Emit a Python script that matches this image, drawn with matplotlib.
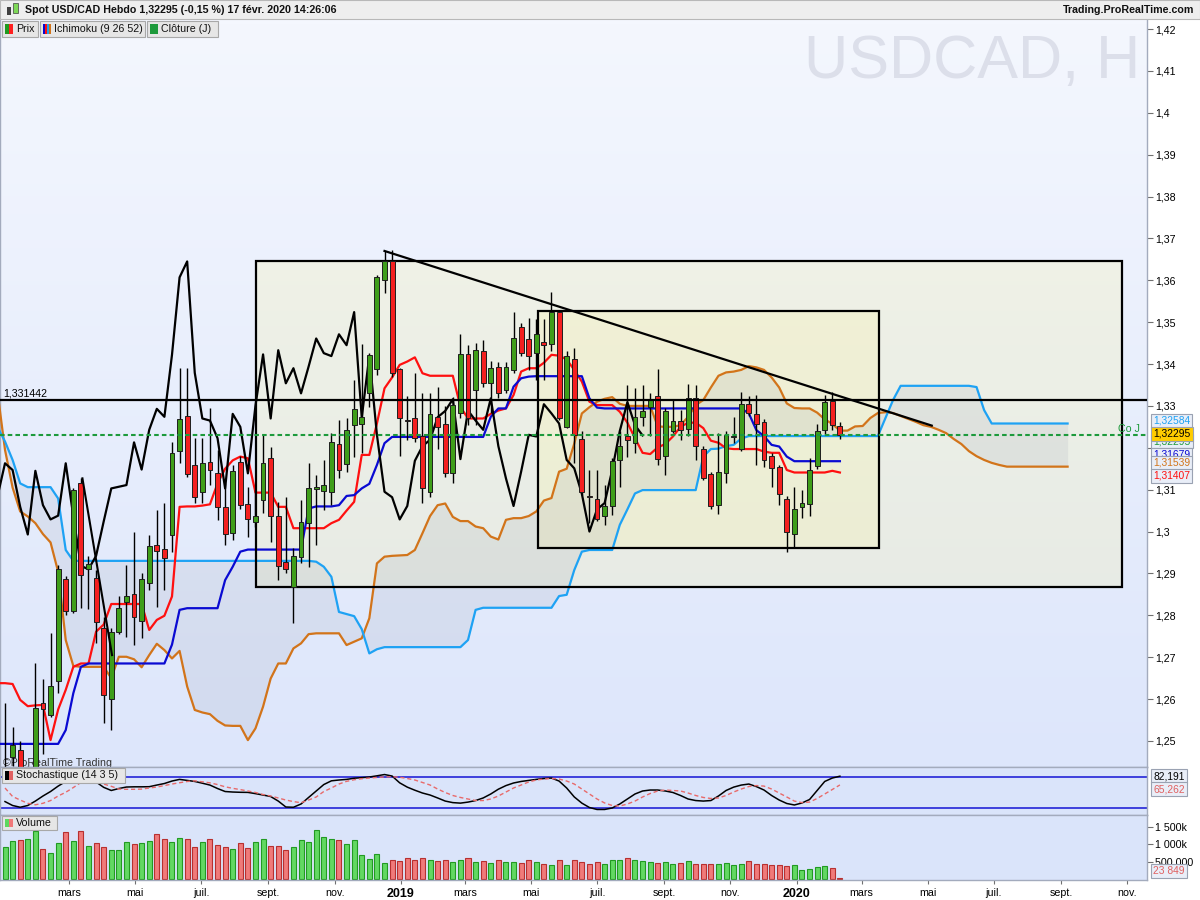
import numpy as np
import pandas as pd
import matplotlib
matplotlib.use("Agg")
import matplotlib.pyplot as plt
from matplotlib.patches import Rectangle
from matplotlib.ticker import FuncFormatter
from matplotlib.transforms import blended_transform_factory

plt.rcParams['font.family'] = ['Liberation Sans', 'DejaVu Sans']

# === Donnees hebdo USD/CAD, bougie 0 = semaine du 1er janvier 2018 ===
debut = pd.Timestamp('2018-01-01')

ouv = [1.2390, 1.2462, 1.2478, 1.2380, 1.2430, 1.2590, 1.2562, 1.2642, 1.2886, 1.2810,
       1.3115, 1.2911, 1.2888, 1.2769, 1.2599, 1.2761, 1.2831, 1.2850, 1.2787, 1.2876,
       1.2968, 1.2958, 1.2992, 1.3192, 1.3276, 1.3160, 1.3095, 1.3166, 1.3139, 1.3058,
       1.2996, 1.3167, 1.3065, 1.3022, 1.3075, 1.3175, 1.3038, 1.2927, 1.2867, 1.2940,
       1.3021, 1.3101, 1.3098, 1.3094, 1.3209, 1.3161, 1.3254, 1.3256, 1.3330, 1.3387,
       1.3601, 1.3645, 1.3387, 1.3267, 1.3270, 1.3227, 1.3095, 1.3274, 1.3258, 1.3139,
       1.3282, 1.3425, 1.3338, 1.3432, 1.3354, 1.3394, 1.3338, 1.3386, 1.3489, 1.3459,
       1.3426, 1.3453, 1.3448, 1.3524, 1.3250, 1.3411, 1.3220, 1.3084, 1.3077, 1.3037,
       1.3061, 1.3172, 1.3227, 1.3212, 1.3274, 1.3298, 1.3324, 1.3180, 1.3241, 1.3265,
       1.3244, 1.3318, 1.3197, 1.3138, 1.3063, 1.3139, 1.3226, 1.3197, 1.3305, 1.3280,
       1.3261, 1.3180, 1.3155, 1.3078, 1.2993, 1.3058, 1.3065, 1.3157, 1.3243, 1.3312,
       1.3252]
haut = [1.2590, 1.2534, 1.2500, 1.2440, 1.2685, 1.2647, 1.2757, 1.2920, 1.2895, 1.3103,
        1.3127, 1.2942, 1.2908, 1.2797, 1.2769, 1.2845, 1.2920, 1.2999, 1.2900, 1.2992,
        1.3052, 1.3067, 1.3215, 1.3390, 1.3390, 1.3223, 1.3223, 1.3294, 1.3195, 1.3115,
        1.3160, 1.3180, 1.3107, 1.3100, 1.3231, 1.3203, 1.3070, 1.3083, 1.2960, 1.3075,
        1.3163, 1.3135, 1.3172, 1.3236, 1.3266, 1.3270, 1.3363, 1.3449, 1.3427, 1.3613,
        1.3670, 1.3672, 1.3390, 1.3324, 1.3379, 1.3332, 1.3332, 1.3346, 1.3300, 1.3322,
        1.3472, 1.3445, 1.3451, 1.3457, 1.3408, 1.3404, 1.3404, 1.3525, 1.3497, 1.3509,
        1.3507, 1.3507, 1.3573, 1.3530, 1.3430, 1.3438, 1.3240, 1.3147, 1.3147, 1.3111,
        1.3175, 1.3239, 1.3350, 1.3342, 1.3350, 1.3330, 1.3388, 1.3295, 1.3314, 1.3290,
        1.3352, 1.3350, 1.3205, 1.3143, 1.3235, 1.3239, 1.3274, 1.3334, 1.3324, 1.3326,
        1.3268, 1.3188, 1.3160, 1.3085, 1.3107, 1.3100, 1.3175, 1.3258, 1.3326, 1.3334,
        1.3262]
bas = [1.2350, 1.2440, 1.2340, 1.2250, 1.2410, 1.2470, 1.2558, 1.2614, 1.2800, 1.2805,
       1.2817, 1.2814, 1.2733, 1.2542, 1.2526, 1.2755, 1.2749, 1.2729, 1.2745, 1.2860,
       1.2821, 1.2860, 1.2952, 1.3163, 1.3131, 1.3067, 1.3067, 1.3111, 1.3028, 1.2968,
       1.2980, 1.3055, 1.2988, 1.3010, 1.3044, 1.2976, 1.2884, 1.2900, 1.2781, 1.2925,
       1.2916, 1.2968, 1.3052, 1.3063, 1.3127, 1.3143, 1.3179, 1.3187, 1.3298, 1.3374,
       1.3569, 1.3370, 1.3180, 1.3219, 1.3215, 1.3067, 1.3083, 1.3196, 1.3131, 1.3115,
       1.3270, 1.3254, 1.3254, 1.3344, 1.3282, 1.3320, 1.3330, 1.3378, 1.3420, 1.3386,
       1.3362, 1.3362, 1.3432, 1.3266, 1.3247, 1.3163, 1.3088, 1.3020, 1.3025, 1.3016,
       1.3040, 1.3107, 1.3179, 1.3187, 1.3251, 1.3227, 1.3159, 1.3135, 1.3235, 1.3219,
       1.3227, 1.3172, 1.3122, 1.3055, 1.3043, 1.3117, 1.3211, 1.3193, 1.3275, 1.3159,
       1.3155, 1.3106, 1.3063, 1.2952, 1.2960, 1.3032, 1.3036, 1.3149, 1.3233, 1.3243,
       1.3222]
clot = [1.2430, 1.2490, 1.2380, 1.2430, 1.2578, 1.2576, 1.2631, 1.2910, 1.2810, 1.3099,
        1.2896, 1.2922, 1.2783, 1.2610, 1.2759, 1.2817, 1.2845, 1.2797, 1.2886, 1.2966,
        1.2954, 1.2936, 1.3187, 1.3268, 1.3137, 1.3083, 1.3163, 1.3147, 1.3059, 1.2993,
        1.3145, 1.3063, 1.3029, 1.3038, 1.3163, 1.3036, 1.2918, 1.2910, 1.2942, 1.3024,
        1.3103, 1.3107, 1.3111, 1.3213, 1.3148, 1.3243, 1.3293, 1.3274, 1.3422, 1.3607,
        1.3645, 1.3379, 1.3270, 1.3265, 1.3223, 1.3103, 1.3281, 1.3250, 1.3139, 1.3301,
        1.3423, 1.3270, 1.3433, 1.3354, 1.3390, 1.3330, 1.3394, 1.3461, 1.3426, 1.3419,
        1.3471, 1.3445, 1.3524, 1.3272, 1.3420, 1.3231, 1.3095, 1.3082, 1.3029, 1.3061,
        1.3169, 1.3204, 1.3219, 1.3273, 1.3288, 1.3316, 1.3173, 1.3289, 1.3265, 1.3243,
        1.3318, 1.3204, 1.3127, 1.3061, 1.3143, 1.3231, 1.3227, 1.3304, 1.3282, 1.3258,
        1.3171, 1.3151, 1.3090, 1.3000, 1.3053, 1.3068, 1.3147, 1.3240, 1.3309, 1.3254,
        1.32295]

# volume en milliers
volume = [912, 1091, 1120, 1148, 1385, 863, 758, 1026, 1348, 1091,
          1376, 949, 1026, 912, 835, 835, 1063, 1006, 1026, 1091,
          1291, 1148, 1063, 1177, 1148, 920, 1063, 1148, 977, 920,
          863, 1034, 892, 1063, 1148, 949, 949, 835, 920, 1120,
          1063, 1405, 1205, 1148, 1120, 1006, 1120, 692, 578, 720,
          465, 550, 521, 600, 560, 620, 540, 520, 560, 500,
          560, 600, 480, 520, 460, 560, 480, 500, 460, 540,
          480, 440, 420, 540, 400, 540, 500, 440, 480, 440,
          540, 560, 620, 540, 520, 480, 460, 480, 440, 460,
          520, 440, 440, 440, 440, 460, 420, 440, 520, 440,
          440, 420, 400, 380, 420, 265, 293, 342, 379, 313,
          23.849]

stoch_k = [33, 25.4, 22, 25.4, 34, 43.8, 52.5, 63, 72, 78,
           80, 81, 71, 60.6, 54.5, 58.3, 61.2, 61.6, 61.6, 61.8,
           65, 68, 72.8, 76, 74, 72, 68.6, 65, 58.3, 52.5,
           51.5, 51, 50.8, 48.4, 45.7, 42.8, 34, 22.5, 22, 28.3,
           41, 53.5, 66, 73.2, 74.8, 76, 78.2, 79.4, 80.6, 82.9,
           85.4, 82.5, 69.3, 61, 55, 49.6, 45.7, 40, 34, 31,
           30, 32, 35, 40, 47.7, 57, 64, 69, 72, 74,
           76, 77.7, 78.6, 72.8, 59.3, 42, 30, 21.5, 17.7, 17.7,
           20.6, 28.3, 38, 47.7, 53.5, 55.4, 55.4, 53.5, 50.6, 44.8,
           38, 35, 34, 35, 43.8, 54.5, 61, 65, 67, 62,
           55.4, 44.8, 36, 29.3, 26.4, 30.3, 37, 54.5, 72, 78.6,
           82.191]
stoch_d = [59.3, 42.8, 36, 29.7, 26.8, 29.7, 35, 43.8, 51, 60.2,
           70, 74, 73.8, 67, 62.6, 57.3, 56.8, 56.8, 57.2, 59.3,
           61.2, 64, 67, 69.5, 71.9, 73.2, 71.3, 69.3, 66, 61.6,
           58.7, 56.2, 53.5, 50.6, 46.7, 43.8, 40, 36, 33, 30.8,
           36, 41.9, 52.5, 59.3, 67, 72.2, 75.3, 77.3, 78.6, 79.8,
           80.8, 81.1, 80.2, 77.7, 74.8, 70, 65.1, 57.3, 50.6, 44.8,
           41, 38, 35, 35, 38, 43.8, 51.5, 59.3, 65.1, 71,
           74.8, 76.7, 77.7, 76.7, 72.8, 67, 57.3, 47.7, 38, 30.3,
           25.4, 24.4, 28.3, 34, 41.9, 48.6, 53.5, 55.4, 54.5, 53.5,
           49.6, 44.8, 41, 39, 40, 44.8, 51.5, 57.3, 62.2, 64,
           63, 57.3, 49.6, 41.9, 34, 31, 32, 39, 47.7, 56.4,
           65.262]

# Ichimoku, premier point = semaine -1
tenkan = [1.2638, 1.2638, 1.2636, 1.2598, 1.2583, 1.2585, 1.2586, 1.2502, 1.2575, 1.2622,
          1.2677, 1.2685, 1.2685, 1.2761, 1.2778, 1.2827, 1.2827, 1.2827, 1.2827, 1.2827,
          1.2765, 1.2789, 1.2799, 1.2845, 1.3059, 1.3060, 1.3060, 1.3062, 1.3065, 1.3115,
          1.3150, 1.3170, 1.3179, 1.3175, 1.3093, 1.3093, 1.3093, 1.3059, 1.3059, 1.3008,
          1.3008, 1.3008, 1.3008, 1.3008, 1.3020, 1.3028, 1.3050, 1.3071, 1.3183, 1.3183,
          1.3258, 1.3342, 1.3368, 1.3398, 1.3406, 1.3416, 1.3378, 1.3372, 1.3372, 1.3372,
          1.3372, 1.3298, 1.3270, 1.3270, 1.3270, 1.3281, 1.3289, 1.3294, 1.3326, 1.3382,
          1.3390, 1.3390, 1.3403, 1.3422, 1.3420, 1.3411, 1.3386, 1.3358, 1.3310, 1.3302,
          1.3302, 1.3302, 1.3286, 1.3260, 1.3223, 1.3188, 1.3185, 1.3201, 1.3209, 1.3227,
          1.3250, 1.3260, 1.3260, 1.3247, 1.3217, 1.3212, 1.3199, 1.3197, 1.3197, 1.3197,
          1.3197, 1.3191, 1.3188, 1.3188, 1.3147, 1.3141, 1.3141, 1.3141, 1.3141, 1.3141,
          1.3145, 1.3141]
kijun = [1.2493, 1.2493, 1.2493, 1.2493, 1.2493, 1.2493, 1.2493, 1.2493, 1.2493, 1.2526,
         1.2614, 1.2677, 1.2685, 1.2685, 1.2685, 1.2685, 1.2685, 1.2685, 1.2685, 1.2685,
         1.2685, 1.2685, 1.2685, 1.2730, 1.2813, 1.2817, 1.2817, 1.2817, 1.2817, 1.2817,
         1.2884, 1.2916, 1.2952, 1.2957, 1.2957, 1.2957, 1.2957, 1.2957, 1.2957, 1.2957,
         1.2957, 1.3055, 1.3060, 1.3060, 1.3060, 1.3063, 1.3085, 1.3087, 1.3103, 1.3114,
         1.3159, 1.3211, 1.3226, 1.3226, 1.3226, 1.3226, 1.3226, 1.3226, 1.3226, 1.3226,
         1.3226, 1.3226, 1.3226, 1.3226, 1.3226, 1.3274, 1.3294, 1.3294, 1.3346, 1.3366,
         1.3370, 1.3371, 1.3371, 1.3371, 1.3371, 1.3371, 1.3371, 1.3371, 1.3318, 1.3296,
         1.3294, 1.3294, 1.3294, 1.3294, 1.3294, 1.3294, 1.3294, 1.3294, 1.3294, 1.3294,
         1.3294, 1.3294, 1.3294, 1.3294, 1.3294, 1.3294, 1.3294, 1.3294, 1.3294, 1.3282,
         1.3242, 1.3228, 1.3207, 1.3203, 1.3179, 1.3168, 1.3168, 1.3168, 1.3168, 1.3168,
         1.3168, 1.3168]
# senkou A / B, projetes jusqu'a la semaine 140
ssa = [1.3335, 1.3195, 1.3105, 1.3048, 1.3036, 1.3020, 1.2994, 1.2974, 1.2904, 1.2741,
       1.2679, 1.2677, 1.2677, 1.2677, 1.2677, 1.2650, 1.2701, 1.2701, 1.2695, 1.2676,
       1.2705, 1.2732, 1.2717, 1.2697, 1.2715, 1.2630, 1.2574, 1.2568, 1.2564, 1.2548,
       1.2537, 1.2536, 1.2536, 1.2502, 1.2530, 1.2582, 1.2649, 1.2685, 1.2685, 1.2721,
       1.2733, 1.2755, 1.2757, 1.2757, 1.2757, 1.2757, 1.2729, 1.2737, 1.2745, 1.2793,
       1.2924, 1.2940, 1.2942, 1.2943, 1.2944, 1.2956, 1.2996, 1.3037, 1.3063, 1.3067,
       1.3035, 1.3025, 1.3025, 1.3012, 1.3008, 1.2988, 1.2981, 1.3028, 1.3032, 1.3032,
       1.3037, 1.3048, 1.3074, 1.3080, 1.3143, 1.3150, 1.3210, 1.3282, 1.3297, 1.3310,
       1.3317, 1.3321, 1.3305, 1.3300, 1.3300, 1.3300, 1.3300, 1.3251, 1.3250, 1.3250,
       1.3254, 1.3274, 1.3302, 1.3314, 1.3344, 1.3372, 1.3380, 1.3382, 1.3386, 1.3395,
       1.3392, 1.3386, 1.3368, 1.3344, 1.3306, 1.3295, 1.3294, 1.3294, 1.3284, 1.3268,
       1.3257, 1.3241, 1.3241, 1.3251, 1.3252, 1.3271, 1.3283, 1.3285, 1.3283, 1.3276,
       1.3269, 1.3262, 1.3254, 1.3250, 1.3243, 1.3235, 1.3221, 1.3209, 1.3192, 1.3180,
       1.3171, 1.3164, 1.3159, 1.3155, 1.3155, 1.3155, 1.3155, 1.3155, 1.3155, 1.3155,
       1.3155, 1.3155]
ssb = [1.3250, 1.3215, 1.3171, 1.3115, 1.3106, 1.3106, 1.3106, 1.3106, 1.3079, 1.2956,
       1.2930, 1.2930, 1.2930, 1.2930, 1.2930, 1.2930, 1.2930, 1.2930, 1.2930, 1.2930,
       1.2930, 1.2930, 1.2930, 1.2930, 1.2930, 1.2930, 1.2930, 1.2930, 1.2930, 1.2930,
       1.2930, 1.2930, 1.2930, 1.2930, 1.2930, 1.2930, 1.2930, 1.2930, 1.2930, 1.2930,
       1.2930, 1.2930, 1.2928, 1.2916, 1.2892, 1.2808, 1.2803, 1.2798, 1.2767, 1.2709,
       1.2719, 1.2724, 1.2724, 1.2724, 1.2724, 1.2724, 1.2724, 1.2724, 1.2724, 1.2724,
       1.2724, 1.2724, 1.2741, 1.2813, 1.2818, 1.2818, 1.2818, 1.2818, 1.2818, 1.2818,
       1.2818, 1.2818, 1.2818, 1.2818, 1.2846, 1.2849, 1.2908, 1.2952, 1.2956, 1.2956,
       1.2956, 1.2956, 1.3016, 1.3053, 1.3091, 1.3099, 1.3099, 1.3099, 1.3099, 1.3099,
       1.3099, 1.3099, 1.3099, 1.3179, 1.3197, 1.3198, 1.3204, 1.3207, 1.3222, 1.3228,
       1.3228, 1.3228, 1.3228, 1.3228, 1.3228, 1.3228, 1.3228, 1.3228, 1.3228, 1.3228,
       1.3228, 1.3228, 1.3228, 1.3228, 1.3228, 1.3228, 1.3228, 1.3271, 1.3314, 1.3348,
       1.3348, 1.3348, 1.3348, 1.3348, 1.3348, 1.3348, 1.3348, 1.3348, 1.3348, 1.3345,
       1.3290, 1.3258, 1.3258, 1.3258, 1.3258, 1.3258, 1.3258, 1.3258, 1.3258, 1.3258,
       1.3258, 1.3258]

# objets traces a la main (semaine, prix)
niveau_h = 1.331442
cloture_j = 1.32295
oblique = [(50, 1.3670), (122.1, 1.3253)]
oblique_courte = [(10.2, 1.3127), (14.1, 1.2705)]
rect_grand = (33.1, 147.2, 1.2868, 1.3646)
rect_petit = (70.2, 115.2, 1.2961, 1.3527)

mois = {3: 'mars', 5: 'mai', 7: 'juil.', 9: 'sept.', 11: 'nov.'}

# === Figure ===
o, h, l, c = (np.array(v) for v in (ouv, haut, bas, clot))
n = len(c)
x = np.arange(n)
hausse = c >= o

W, H = 1200, 900


def zone(x0, y0, x1, y1):
    return [x0 / W, 1 - y1 / H, (x1 - x0) / W, (y1 - y0) / H]


fig = plt.figure(figsize=(12, 9), dpi=100)
fig.patch.set_facecolor('white')
ax = fig.add_axes(zone(0, 20, 1147, 767))
ax_s = fig.add_axes(zone(0, 767, 1147, 815), sharex=ax)
ax_v = fig.add_axes(zone(0, 815, 1147, 880), sharex=ax)

# fond degrade du panneau prix
deg = np.linspace(0, 1, 200)[:, None, None]
c_haut = np.array([244, 247, 254]) / 255
c_bas = np.array([221, 230, 251]) / 255
ax.imshow(c_haut + (c_bas - c_haut) * deg, extent=(0, 1, 0, 1),
          transform=ax.transAxes, aspect='auto', zorder=0)
ax_s.set_facecolor('#dae4fa')
ax_v.set_facecolor('#dae4fa')

ax.text(0.9939, 0.9435, 'USDCAD, H', transform=ax.transAxes, fontsize=44,
        color='#dcdfea', ha='right', va='center', zorder=1)
ax.text(0.0026, 0.002, '©ProRealTime Trading', transform=ax.transAxes,
        fontsize=7.7, color='#333333', zorder=1)

# rectangles
for k0, k1, p0, p1 in (rect_grand, rect_petit):
    ax.add_patch(Rectangle((k0, p0), k1 - k0, p1 - p0, fc='#fbf39a', alpha=0.22,
                           ec='none', zorder=1))
    ax.add_patch(Rectangle((k0, p0), k1 - k0, p1 - p0, fill=False, ec='black',
                           lw=1.6, zorder=3.5))

# nuage + ichimoku
xi = np.arange(len(ssa)) - 1
ax.fill_between(xi, ssa, ssb, color='#8890a4', alpha=0.13, lw=0, zorder=2)
ax.plot(xi, ssa, color='#d2741a', lw=1.6, zorder=3)
ax.plot(xi, ssb, color='#1ea2f4', lw=1.6, zorder=3)
xt = np.arange(len(tenkan)) - 1
ax.plot(xt, tenkan, color='#ff1010', lw=1.6, zorder=3)
ax.plot(xt, kijun, color='#0a0ad2', lw=1.6, zorder=3)
ax.plot(x[25:] - 26, c[25:], color='black', lw=1.6, zorder=3)  # chikou

# bougies
ax.vlines(x, l, h, color='black', lw=1, zorder=4)
corps = np.maximum(np.abs(c - o), 0.00012)
ax.bar(x, corps, bottom=np.minimum(o, c), width=0.64,
       color=np.where(hausse, '#3f9e1a', '#f42020'), edgecolor='#1e1e1e',
       lw=0.7, zorder=5)

ax.axhline(niveau_h, color='black', lw=1.6, zorder=6)
ax.axhline(cloture_j, color='#1d9a3c', lw=1.5, dashes=(2.2, 1.5), zorder=6)
ax.plot(*zip(*oblique), color='black', lw=1.6, zorder=6)
ax.plot(*zip(*oblique_courte), color='black', lw=1.5, zorder=6)
ax.text(-0.3, 1.33185, '1,331442', fontsize=7.7, va='bottom', zorder=7)
ax.text(149.5, 1.3233, 'Co J', fontsize=7.7, color='#1d9a3c', ha='right',
        va='bottom', zorder=7)

ax.set_xlim(-0.66, 150.46)
ax.set_ylim(1.24378, 1.42215)

# axe des prix
ax.yaxis.tick_right()
ax.set_yticks(np.arange(1.25, 1.4201, 0.01))
ax.yaxis.set_major_formatter(
    FuncFormatter(lambda v, p: f'{v:.2f}'.rstrip('0').replace('.', ',')))
for a in (ax, ax_s, ax_v):
    a.tick_params(axis='y', direction='out', length=4, width=0.8, color='#707070',
                  labelsize=7.7, pad=2)
    for s in a.spines.values():
        s.set_color('#a3abbd')
        s.set_linewidth(1)
ax.spines['top'].set_visible(False)
ax.tick_params(axis='x', bottom=False, labelbottom=False)
ax_s.tick_params(axis='x', bottom=False, labelbottom=False)


def etiquette(axe, yv, s, couleur, fond='#e9eef8'):
    axe.text(1.0055, yv, s, transform=blended_transform_factory(axe.transAxes, axe.transData),
             color=couleur, fontsize=7.4, va='center', ha='left', clip_on=False,
             zorder=10, bbox=dict(boxstyle='square,pad=0.2', fc=fond, ec='#9aa2b2', lw=0.8))


etiquette(ax, 1.3264, '1,32584', '#1ea2f4')
etiquette(ax, 1.3216, '1,32295', '#1d9a3c')
etiquette(ax, 1.3234, '1,32295', 'black', fond='#ffcc00')
etiquette(ax, 1.3183, '1,31679', '#0a0ad2')
etiquette(ax, 1.3164, '1,31539', '#d2741a')
etiquette(ax, 1.3133, '1,31407', '#ff1010')

# stochastique
ax_s.axhline(80, color='#2424d8', lw=1.2)
ax_s.axhline(20, color='#2424d8', lw=1.2)
ax_s.plot(x, stoch_k, color='black', lw=1.1)
ax_s.plot(x, stoch_d, color='#e86a6a', lw=1.0, dashes=(3, 2))
ax_s.set_ylim(7, 100)
ax_s.set_yticks([])
etiquette(ax_s, 82.2, '82,191', 'black')
etiquette(ax_s, 57, '65,262', '#e06060')

# volume
vol = np.array(volume) * 1000
ax_v.bar(x, vol, width=0.66, color=np.where(hausse, '#62d862', '#f07a7a'),
         edgecolor=np.where(hausse, '#229a22', '#b83030'), lw=0.8)
ax_v.set_ylim(-20000, 1832000)
ax_v.yaxis.tick_right()
ax_v.set_yticks([500000, 1000000, 1500000])
ax_v.set_yticklabels(['500 000', '1 000k', '1 500k'])
etiquette(ax_v, 236000, '23 849', '#e06060')

pos, lab = [], []
for d in pd.date_range('2018-03-01', '2020-11-01', freq='2MS'):
    pos.append((d - debut).days / 7)
    lab.append(str(d.year) if d.month == 1 else mois[d.month])
ax_v.set_xticks(pos)
ax_v.set_xticklabels(lab)
ax_v.tick_params(axis='x', direction='out', length=3, width=0.8, color='#707070',
                 labelsize=7.7, pad=3)
for t in ax_v.get_xticklabels():
    if t.get_text().isdigit():
        t.set_fontweight('bold')
        t.set_fontsize(9)
ax.set_xlim(-0.66, 150.46)


# === bandeau du haut et legendes ===
def rect_fig(x0, y0, x1, y1, **kw):
    fig.add_artist(Rectangle((x0 / W, 1 - y1 / H), (x1 - x0) / W, (y1 - y0) / H,
                             transform=fig.transFigure, **kw))


def texte_fig(xp, yp, s, **kw):
    fig.text(xp / W, 1 - yp / H, s, va='center', **kw)


rect_fig(0, 0, 1200, 19, fc='#eeeeee', ec='#b8b8b8', lw=0.8)
rect_fig(7, 7, 11, 15, fc='#404040', ec='none')
rect_fig(13, 3, 18, 13, fc='#7ed957', ec='#404040', lw=0.5)
texte_fig(25, 10, 'Spot USD/CAD Hebdo 1,32295 (-0,15 %) 17 févr. 2020 14:26:06',
          fontsize=7.7, fontweight='bold', color='#111111')
texte_fig(1194, 10, 'Trading.ProRealTime.com', fontsize=7.7, fontweight='bold',
          color='#111111', ha='right')


def legende(x0, x1, y0, y1, couleurs, s):
    rect_fig(x0, y0, x1, y1, fc='#e6e6e6', ec='#a8a8a8', lw=0.8)
    larg = 8 / len(couleurs)
    for i, col in enumerate(couleurs):
        rect_fig(x0 + 3 + i * larg, y0 + 3, x0 + 3 + (i + 1) * larg, y1 - 3, fc=col, ec='none')
    texte_fig(x0 + 14, (y0 + y1) / 2, s, fontsize=7.7, color='#111111')


legende(2, 38, 21, 37, ['#1f9a1f', '#ff2020'], 'Prix')
legende(40, 145, 21, 37, ['#0a0ad2', '#ff1010', '#1ea2f4', '#d2741a'], 'Ichimoku (9 26 52)')
legende(147, 218, 21, 37, ['#1d9a3c'], 'Clôture (J)')
legende(2, 125, 768, 783, ['black', '#e06060'], 'Stochastique (14 3 5)')
legende(2, 57, 816, 830, ['#5ed85e', '#f07878'], 'Volume')

fig.savefig('out.png', dpi=100)
